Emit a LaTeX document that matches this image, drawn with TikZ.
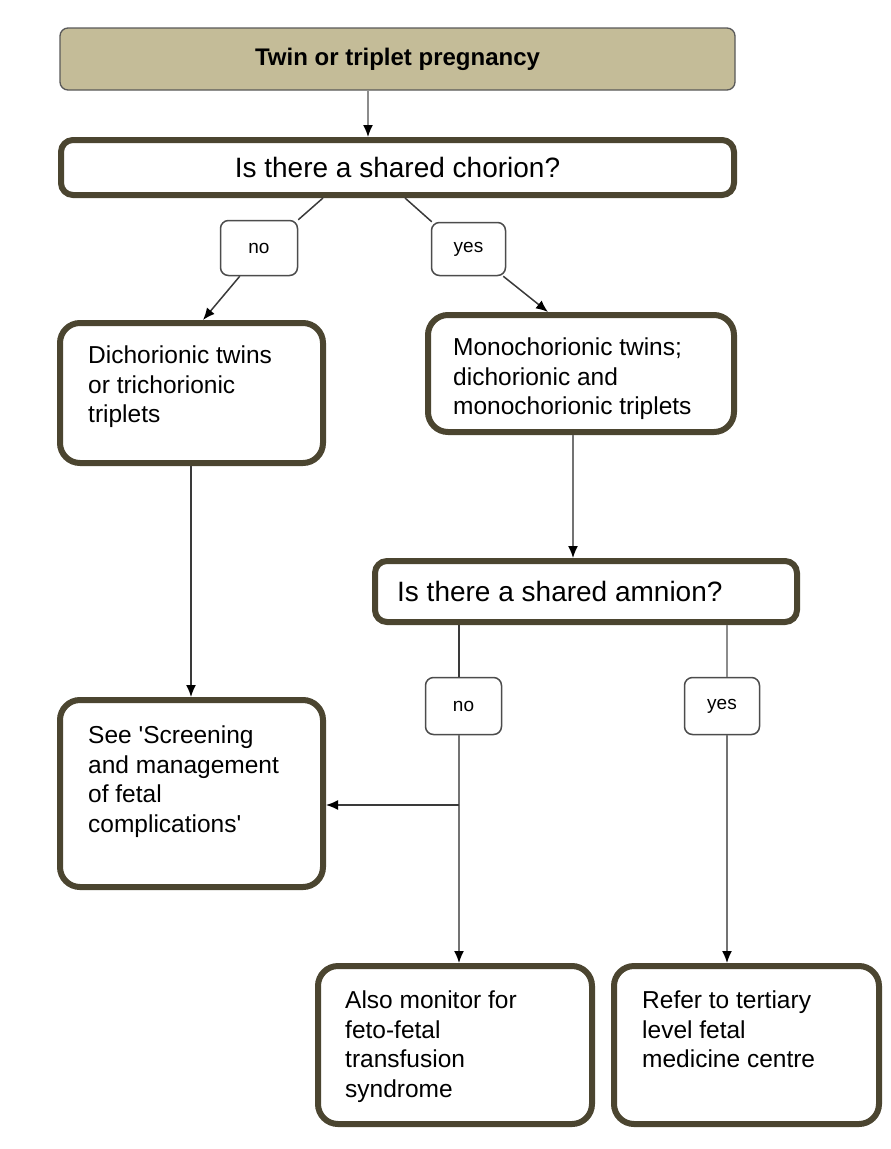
\documentclass[tikz,border=0pt]{standalone}
\usepackage{fontspec}
\setmainfont{Liberation Sans}
\usetikzlibrary{arrows.meta}
\definecolor{frame}{HTML}{4B4530}
\definecolor{tanfill}{HTML}{C4BC98}
\definecolor{lncol}{HTML}{3A3A3A}
\begin{document}
\begin{tikzpicture}[x=1pt,y=-1pt,
 bigbox/.style={draw=frame, line width=6pt, rounded corners=20pt, fill=white, inner sep=0pt},
 qbox/.style={draw=frame, line width=6pt, rounded corners=12pt, fill=white, inner sep=0pt},
 lbl/.style={draw=black!70, line width=1.5pt, rounded corners=8pt, fill=white, inner sep=0pt, font=\fontsize{19}{23}\selectfont},
 txt/.style={anchor=north west, align=left, inner sep=0pt, font=\fontsize{24.5}{29.5}\selectfont},
 arr/.style={draw=lncol, -{Latex[length=12pt,width=10pt,color=black]}, line width=1.5pt},
 ln/.style={draw=lncol, line width=1.5pt}]
\useasboundingbox (0,0) rectangle (891,1149);
% boxes
\node[draw=black!65, line width=1.3pt, rounded corners=8pt, fill=tanfill, inner sep=0pt,
      minimum width=675pt, minimum height=62pt, font=\fontsize{24}{28}\selectfont\bfseries]
      (top) at (397.5,59) {Twin or triplet pregnancy};
\node[qbox, minimum width=673pt, minimum height=55pt, font=\fontsize{28}{32}\selectfont]
      (chor) at (397.5,167.5) {Is there a shared chorion?};
\node[lbl, minimum width=77pt, minimum height=55pt] (no1) at (259,248) {no};
\node[lbl, minimum width=74pt, minimum height=53pt] (yes1) at (468.5,249) {yes};
\node[bigbox, minimum width=263pt, minimum height=140pt] (dich) at (191.5,393) {};
\node[txt] (dicht) at (88,346) {Dichorionic twins\\or trichorionic\\triplets};
\node[bigbox, minimum width=306pt, minimum height=117pt] (mono) at (581,373.5) {};
\node[txt] (monot) at (453,338) {Monochorionic twins;\\dichorionic and\\monochorionic triplets};
\node[qbox, minimum width=422pt, minimum height=61pt] (amn) at (586,591.5) {};
\node[anchor=west, inner sep=0pt, font=\fontsize{28}{32}\selectfont] (amnt) at (397,591) {Is there a shared amnion?};
\node[lbl, minimum width=76pt, minimum height=57pt] (no2) at (463.5,706) {no};
\node[lbl, minimum width=75pt, minimum height=57pt] (yes2) at (722,706) {yes};
\node[bigbox, minimum width=263pt, minimum height=187pt] (scr) at (191.5,793.5) {};
\node[txt] (scrt) at (88,726) {See \textquotesingle Screening\\and management\\of fetal\\complications\textquotesingle};
\node[bigbox, minimum width=274pt, minimum height=158pt] (also) at (455,1045) {};
\node[txt] (alsot) at (345,991) {Also monitor for\\feto-fetal\\transfusion\\syndrome};
\node[bigbox, minimum width=265pt, minimum height=158pt] (ref) at (746.5,1045) {};
\node[txt] (reft) at (642,991) {Refer to tertiary\\level fetal\\medicine centre};
% connectors
\draw[arr, draw=black!45] (368,0 |- top.south) -- (368,0 |- chor.north);
\draw[ln] (323,0 |- chor.south) -- (no1.north east);
\draw[arr] ([xshift=20pt]no1.south west) -- (203,0 |- dich.north);
\draw[ln] (405,0 |- chor.south) -- ([xshift=1pt]yes1.north west);
\draw[arr] ([xshift=-3pt]yes1.south east) -- (548,0 |- mono.north);
\draw[arr, draw=black!55] (573,0 |- mono.south) -- (573,0 |- amn.north);
\draw[arr] (191,0 |- dich.south) -- (191,0 |- scr.north);
\draw[ln] (459,0 |- amn.south) -- (459,0 |- no2.north);
\draw[arr, draw=black!55] (459,0 |- no2.south) -- (459,0 |- also.north);
\coordinate (br) at (459,805);
\draw[arr] (br) -- (scr.east |- br);
\draw[ln, draw=black!45] (727,0 |- amn.south) -- (727,0 |- yes2.north);
\draw[arr, draw=black!55] (727,0 |- yes2.south) -- (727,0 |- ref.north);
\end{tikzpicture}
\end{document}
